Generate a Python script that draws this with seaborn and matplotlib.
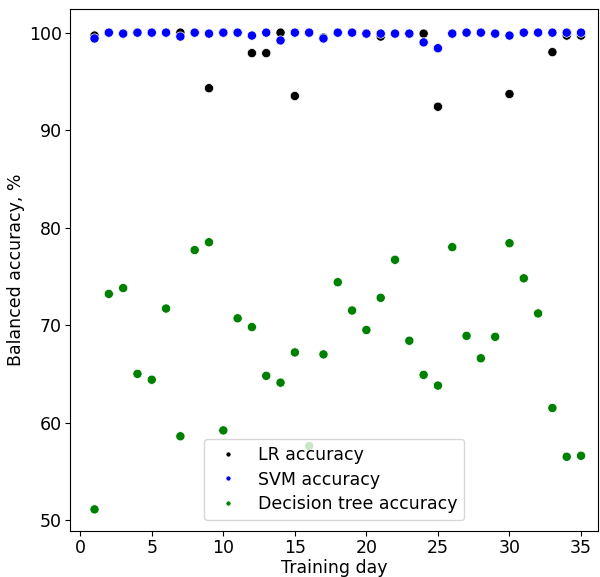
import numpy as np
import pandas as pd
import matplotlib
matplotlib.use("Agg")
import matplotlib.pyplot as plt
import seaborn as sns

days = list(range(1, 36))
lr_acc = [99.7, 100.0, 99.9, 100.0, 100.0, 100.0, 100.0, 100.0, 94.3, 100.0,
          100.0, 97.9, 97.9, 100.0, 93.5, 100.0, 99.5, 100.0, 100.0, 99.9,
          99.6, 99.9, 99.9, 99.9, 92.4, 99.9, 100.0, 100.0, 99.9, 93.7,
          100.0, 100.0, 98.0, 99.7, 99.7]
svm_acc = [99.4, 100.0, 99.9, 100.0, 100.0, 100.0, 99.6, 100.0, 99.9, 100.0,
           100.0, 99.7, 100.0, 99.2, 100.0, 100.0, 99.4, 100.0, 100.0, 99.9,
           99.9, 99.9, 99.9, 99.0, 98.4, 99.9, 100.0, 100.0, 99.9, 99.7,
           100.0, 100.0, 100.0, 100.0, 100.0]
dt_acc = [51.1, 73.2, 73.8, 65.0, 64.4, 71.7, 58.6, 77.7, 78.5, 59.2,
          70.7, 69.8, 64.8, 64.1, 67.2, 57.6, 67.0, 74.4, 71.5, 69.5,
          72.8, 76.7, 68.4, 64.9, 63.8, 78.0, 68.9, 66.6, 68.8, 78.4,
          74.8, 71.2, 61.5, 56.5, 56.6]
series_names = ["LR accuracy", "SVM accuracy", "Decision tree accuracy"]
colors = ["black", "blue", "green"]

df = pd.concat([
    pd.DataFrame({"day": days, "acc": lr_acc, "model": series_names[0]}),
    pd.DataFrame({"day": days, "acc": svm_acc, "model": series_names[1]}),
    pd.DataFrame({"day": days, "acc": dt_acc, "model": series_names[2]}),
])

fs = 12.5
fig, ax = plt.subplots(figsize=(6.0, 5.77), dpi=100)
sns.scatterplot(data=df, x="day", y="acc", hue="model",
                palette=dict(zip(series_names, colors)), s=44,
                edgecolor="white", linewidth=0.5, ax=ax)
ax.set_xlabel("Training day", fontsize=fs, labelpad=1.5)
ax.set_ylabel("Balanced accuracy, %", fontsize=fs, labelpad=3)
ax.tick_params(labelsize=fs, pad=2.5)
ax.set_xticks([0, 5, 10, 15, 20, 25, 30, 35])
ax.set_yticks([50, 60, 70, 80, 90, 100])
ax.set_xlim(-0.7, 36.2)
ax.set_ylim(48.9, 102.4)
leg = ax.legend(loc="lower center", fontsize=fs, title=None,
                markerscale=0.55, framealpha=0.8, borderaxespad=0.6,
                handletextpad=0.7, labelspacing=0.4)
fig.subplots_adjust(left=0.117, right=0.997, top=0.984, bottom=0.080)
fig.savefig("out.png", dpi=100)
